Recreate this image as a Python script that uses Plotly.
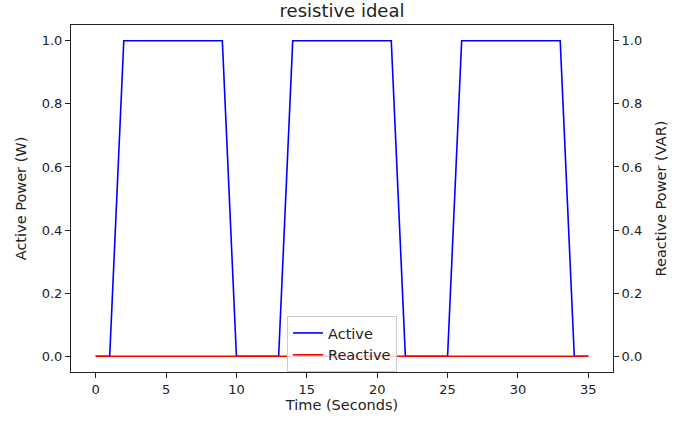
import plotly.graph_objects as go

time_s = list(range(0, 36))
active_w = [0, 0, 1, 1, 1, 1, 1, 1, 1, 1, 0, 0, 0, 0, 1, 1, 1, 1, 1, 1, 1, 1,
            0, 0, 0, 0, 1, 1, 1, 1, 1, 1, 1, 1, 0, 0]
reactive_var = [0] * 36
x_ticks = [0, 5, 10, 15, 20, 25, 30, 35]
y_ticks = [0.0, 0.2, 0.4, 0.6, 0.8, 1.0]

fig = go.Figure()
fig.add_trace(go.Scatter(x=time_s, y=active_w, mode="lines", name="Active",
                         line=dict(color="#0000ff", width=1.6), yaxis="y"))
fig.add_trace(go.Scatter(x=time_s, y=reactive_var, mode="lines", name="Reactive",
                         line=dict(color="#ff0000", width=1.6), yaxis="y2"))

tick_font = dict(family="DejaVu Sans", size=13, color="#222")
label_font = dict(family="DejaVu Sans", size=14.5, color="#222")
axis_common = dict(showgrid=False, zeroline=False, showline=True, linecolor="#222",
                   linewidth=1, ticks="outside", ticklen=5, tickcolor="#222",
                   tickfont=tick_font, automargin=False)

fig.update_layout(
    width=691, height=422,
    margin=dict(l=71, r=78, t=25, b=50),
    paper_bgcolor="white", plot_bgcolor="white",
    title=dict(text="resistive ideal", x=0.5, xref="paper", y=1 - 11 / 422,
               yanchor="middle", font=dict(family="DejaVu Sans", size=18, color="#222")),
    xaxis=dict(axis_common, range=[-1.75, 36.75], tickvals=x_ticks, mirror=True,
               title=dict(text="Time (Seconds)", font=label_font, standoff=3)),
    yaxis=dict(axis_common, range=[-0.05, 1.05], tickvals=y_ticks, tickformat=".1f",
               title=dict(text="Active Power (W)", font=label_font, standoff=11)),
    yaxis2=dict(axis_common, range=[-0.05, 1.05], tickvals=y_ticks, tickformat=".1f",
                overlaying="y", side="right",
                title=dict(text="Reactive Power (VAR)", font=label_font, standoff=14)),
    legend=dict(x=0.5, xanchor="center", y=0.0, yanchor="bottom",
                bgcolor="rgba(255,255,255,0.8)", bordercolor="#ccc", borderwidth=1,
                font=dict(family="DejaVu Sans", size=14.5, color="#222"), tracegroupgap=0),
    showlegend=True,
)

fig.write_html("out.html", config={"displayModeBar": False},
               post_script="document.body.style.margin='0';")
